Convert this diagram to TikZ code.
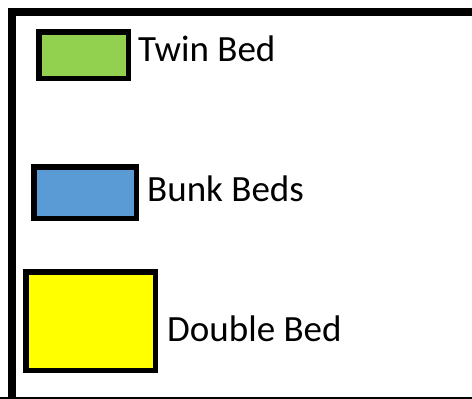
\documentclass[tikz,border=0pt]{standalone}
\usepackage{fontspec}
\setmainfont{Carlito}
\definecolor{twin}{HTML}{92D050}
\definecolor{bunk}{HTML}{5B9BD5}
\definecolor{dbl}{HTML}{FFFF00}
\begin{document}
\begin{tikzpicture}[x=1pt,y=-1pt,
  swatch/.style={draw=black,line width=5.5pt,inner sep=0pt,outer sep=0pt},
  lbl/.style={anchor=base west,inner sep=0pt,font=\fontsize{37}{44}\selectfont}]
\useasboundingbox (0,0) rectangle (472,399);
\begin{scope}
\clip (0,0) rectangle (472,399);
\draw[line width=8pt] (12,420) -- (12,12) -- (490,12);
\draw[line width=8pt] (0,401) -- (490,401);
\end{scope}
\node[swatch,fill=twin,minimum width=89.5pt,minimum height=46.5pt] (tw) at (83.5,55) {};
\node[swatch,fill=bunk,minimum width=102.5pt,minimum height=51.5pt] (bk) at (85,192.5) {};
\node[swatch,fill=dbl,minimum width=129.5pt,minimum height=98.5pt] (db) at (90.5,321) {};
\node[lbl] (twl) at (138,61) {Twin Bed};
\node[lbl] (bkl) at (147,201) {Bunk Beds};
\node[lbl] (dbl) at (167,341) {Double Bed};
\end{tikzpicture}
\end{document}
